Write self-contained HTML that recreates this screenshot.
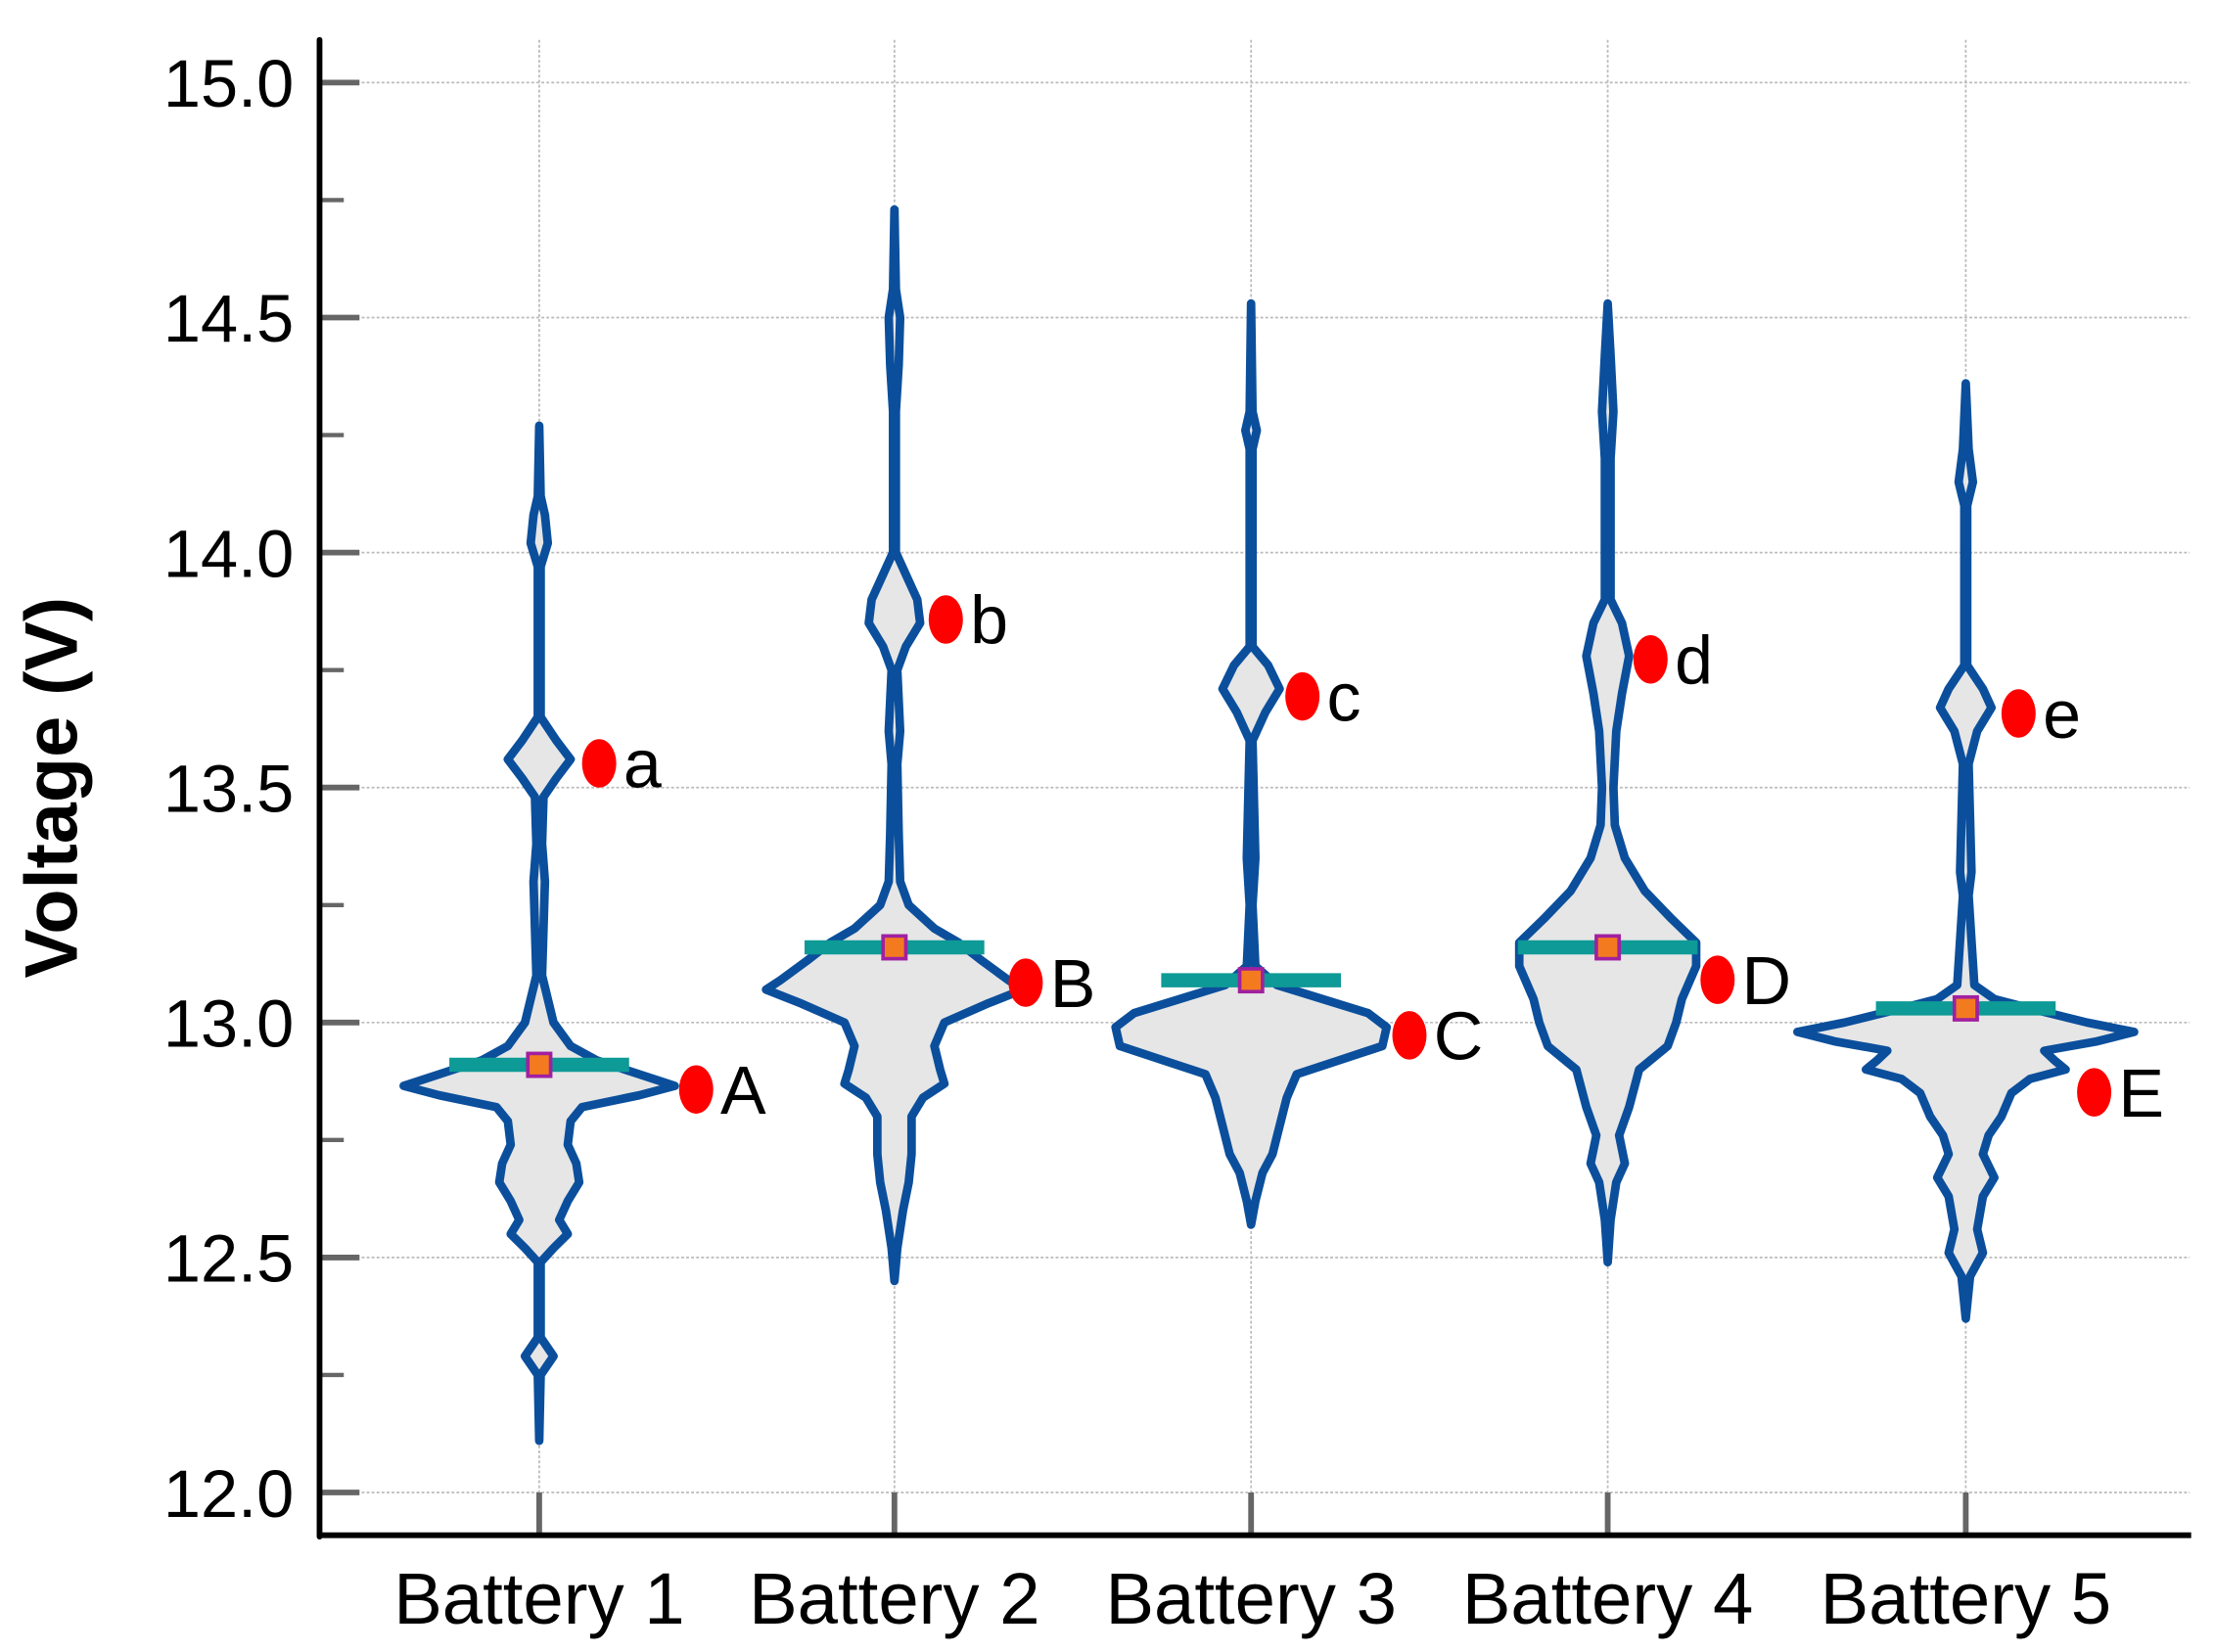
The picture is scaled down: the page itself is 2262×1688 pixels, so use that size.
<!DOCTYPE html>
<html><head><meta charset="utf-8"><style>
html,body{margin:0;padding:0;background:#fff;}
svg{display:block;}
text{font-family:"Liberation Sans",Arial,sans-serif;}
</style></head><body>
<svg id="s" width="2262" height="1688" viewBox="0 0 1552 1160" preserveAspectRatio="none" xmlns="http://www.w3.org/2000/svg">
<g id="grid" stroke="#bbb" stroke-width="1.2" stroke-dasharray="2,1.5"></g>
<g id="ticks"></g>
<g id="violins"></g>
<line x1="224" y1="28" x2="224" y2="1079" stroke="#000" stroke-width="4" stroke-linecap="round"/>
<line x1="224" y1="1078" x2="1536" y2="1078" stroke="#000" stroke-width="4"/>
<g id="labels" font-size="47" fill="#000"></g>
<text x="0" y="0" font-size="52" font-weight="bold" transform="translate(54,553) rotate(-90)" text-anchor="middle">Voltage (V)</text>
</svg>
<script>
const NS="http://www.w3.org/2000/svg";
const Y=v=>58+(15-v)*330;
function el(p,t,a,txt){const e=document.createElementNS(NS,t);for(const k in a)e.setAttribute(k,a[k]);if(txt!==undefined)e.textContent=txt;document.getElementById(p).appendChild(e);return e;}
const xs=[378,627,877,1127,1378];
for(let v=12;v<=15.001;v+=0.5){const y=Y(v);el('grid','line',{x1:250,y1:y,x2:1535,y2:y});
 el('ticks','line',{x1:224,y1:y,x2:252,y2:y,stroke:'#666','stroke-width':4});
 el('labels','text',{x:206,y:y+17,'text-anchor':'end'},v.toFixed(1));}
for(let v=12.25;v<15;v+=0.5){const y=Y(v);el('ticks','line',{x1:224,y1:y,x2:241,y2:y,stroke:'#666','stroke-width':3});}
xs.forEach((x,i)=>{el('grid','line',{x1:x,y1:28,x2:x,y2:1048});
 el('ticks','line',{x1:x,y1:1048,x2:x,y2:1078,stroke:'#666','stroke-width':4});
 el('labels','text',{x:x,y:1140,'text-anchor':'middle','font-size':51},'Battery '+(i+1));});
const V=[
[[14.27,0],[14.12,1],[14.08,4],[14.02,6],[13.97,1],[13.65,1],[13.6,12],[13.56,22],[13.52,12],[13.48,3],[13.38,2],[13.3,4],[13.1,2],[13.0,10],[12.95,22],[12.92,40],[12.89,70],[12.865,95],[12.845,70],[12.82,30],[12.79,22],[12.74,20],[12.7,26],[12.66,28],[12.62,20],[12.58,14],[12.55,20],[12.52,10],[12.49,1],[12.33,1],[12.29,10],[12.25,1],[12.11,0]],
[[14.73,0],[14.56,1],[14.5,4],[14.4,3],[14.3,1],[14.0,1],[13.94,10],[13.9,16],[13.85,18],[13.8,8],[13.75,2],[13.62,4],[13.55,2],[13.4,3],[13.3,4],[13.25,10],[13.2,28],[13.17,45],[13.13,62],[13.09,80],[13.07,90],[13.04,65],[13.0,35],[12.95,28],[12.9,32],[12.87,35],[12.84,20],[12.8,12],[12.72,12],[12.66,10],[12.6,6],[12.52,2],[12.45,0]],
[[14.53,0],[14.3,1],[14.26,4],[14.22,1],[13.8,1],[13.76,12],[13.71,20],[13.66,10],[13.6,1],[13.35,3],[13.25,1],[13.12,3],[13.08,18],[13.05,50],[13.02,82],[12.99,95],[12.95,92],[12.92,62],[12.89,32],[12.84,25],[12.78,20],[12.72,15],[12.68,8],[12.62,3],[12.57,0]],
[[14.53,0],[14.42,2],[14.3,4],[14.2,2],[13.9,2],[13.85,10],[13.78,15],[13.7,10],[13.62,6],[13.5,4],[13.42,5],[13.35,12],[13.28,26],[13.22,45],[13.17,62],[13.12,62],[13.05,52],[13.0,48],[12.95,42],[12.9,22],[12.82,15],[12.76,8],[12.7,12],[12.66,6],[12.58,2],[12.49,0]],
[[14.36,0],[14.22,2],[14.15,5],[14.1,1],[13.76,1],[13.71,12],[13.67,18],[13.62,8],[13.55,2],[13.32,4],[13.27,2],[13.08,6],[13.05,20],[13.03,45],[13.0,85],[12.98,118],[12.96,92],[12.94,55],[12.92,62],[12.9,70],[12.88,45],[12.85,32],[12.8,25],[12.76,16],[12.72,12],[12.67,20],[12.63,12],[12.56,8],[12.51,12],[12.46,3],[12.37,0]]
];
const med=[12.91,13.16,13.09,13.16,13.03];
const small=[['a',420,536],['b',663,435],['c',913,489],['d',1157,463],['e',1415,501]];
const big=[['A',488,765],['B',719,690],['C',988,727],['D',1204,688],['E',1468,767]];
V.forEach((pr,i)=>{const x=xs[i];let r=pr.map(p=>[x+p[1],Y(p[0])]);let l=pr.slice().reverse().map(p=>[x-p[1],Y(p[0])]);
 const d='M'+r.concat(l).map(p=>p[0].toFixed(1)+','+p[1].toFixed(1)).join(' L')+'Z';
 el('violins','path',{d:d,fill:'#e6e6e6',stroke:'#0b4f9c','stroke-width':6,'stroke-linejoin':'round'});
 const my=Y(med[i]);
 el('violins','line',{x1:x-63,y1:my,x2:x+63,y2:my,stroke:'#0e9a96','stroke-width':10});
 el('violins','rect',{x:x-8,y:my-8,width:16,height:16,fill:'#f47a20',stroke:'#a020a0','stroke-width':2.5});
 [small[i],big[i]].forEach(s=>{el('violins','ellipse',{cx:s[1],cy:s[2],rx:12,ry:17,fill:'#f00'});
  el('violins','text',{x:s[1]+17,y:s[2]+17,'font-size':48},s[0]);});
});
</script>
</body></html>
